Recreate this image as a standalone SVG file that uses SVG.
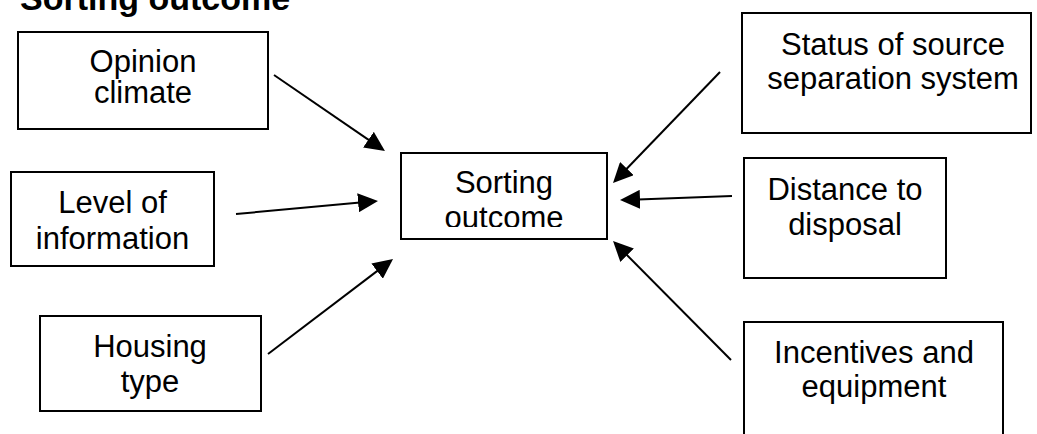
<svg xmlns="http://www.w3.org/2000/svg" width="1037" height="434" viewBox="0 0 1037 434">
  <style>
    .box { fill: #ffffff; stroke: #000000; stroke-width: 2; }
    .label { font-family: "Liberation Sans", Arial, sans-serif; font-size: 31px; fill: #000000; text-anchor: middle; }
    .title { font-family: "Liberation Sans", Arial, sans-serif; font-size: 34px; font-weight: bold; fill: #000000; }
    .conn { fill: none; stroke: #000000; stroke-width: 2; marker-end: url(#head); }
  </style>
  <defs>
    <marker id="head" viewBox="0 0 20 19" markerWidth="20" markerHeight="19" markerUnits="userSpaceOnUse" refX="2" refY="9.5" orient="auto">
      <path d="M0,0 L20,9.5 L0,19 z" fill="#000000"/>
    </marker>
    <clipPath id="centreClip">
      <rect x="401" y="153" width="206" height="74"/>
    </clipPath>
  </defs>
  <rect width="1037" height="434" fill="#ffffff"/>

  <text class="title" x="20" y="10">Sorting outcome</text>

  <g id="connectors">
    <path class="conn" d="M274,75 L370.1,140.8"/>
    <path class="conn" d="M236,214 L360.1,202.6"/>
    <path class="conn" d="M268,354 L378.7,269.9"/>
    <path class="conn" d="M720,72 L625.5,170"/>
    <path class="conn" d="M732,196 L638,199.4"/>
    <path class="conn" d="M731,360 L625.7,253.8"/>
  </g>

  <g id="opinion-climate">
    <rect class="box" x="18" y="32" width="250" height="97"/>
    <text class="label" x="143" y="72">Opinion</text>
    <text class="label" x="143" y="103">climate</text>
  </g>

  <g id="level-of-information">
    <rect class="box" x="11" y="172" width="203" height="94"/>
    <text class="label" x="112.5" y="213">Level of</text>
    <text class="label" x="112.5" y="249">information</text>
  </g>

  <g id="housing-type">
    <rect class="box" x="40" y="316" width="221" height="95"/>
    <text class="label" x="150" y="357">Housing</text>
    <text class="label" x="150" y="392">type</text>
  </g>

  <g id="sorting-outcome">
    <rect class="box" x="401" y="153" width="206" height="86"/>
    <g clip-path="url(#centreClip)">
      <text class="label" x="504" y="193">Sorting</text>
      <text class="label" x="504" y="228">outcome</text>
    </g>
  </g>

  <g id="status-of-source-separation">
    <rect class="box" x="742" y="13" width="289" height="120"/>
    <text class="label" x="893" y="55">Status of source</text>
    <text class="label" x="893" y="89">separation system</text>
  </g>

  <g id="distance-to-disposal">
    <rect class="box" x="744" y="158" width="202" height="120"/>
    <text class="label" x="845" y="200">Distance to</text>
    <text class="label" x="845" y="235">disposal</text>
  </g>

  <g id="incentives-and-equipment">
    <rect class="box" x="744" y="322" width="259" height="130"/>
    <text class="label" x="874" y="363">Incentives and</text>
    <text class="label" x="874" y="397">equipment</text>
  </g>
</svg>
